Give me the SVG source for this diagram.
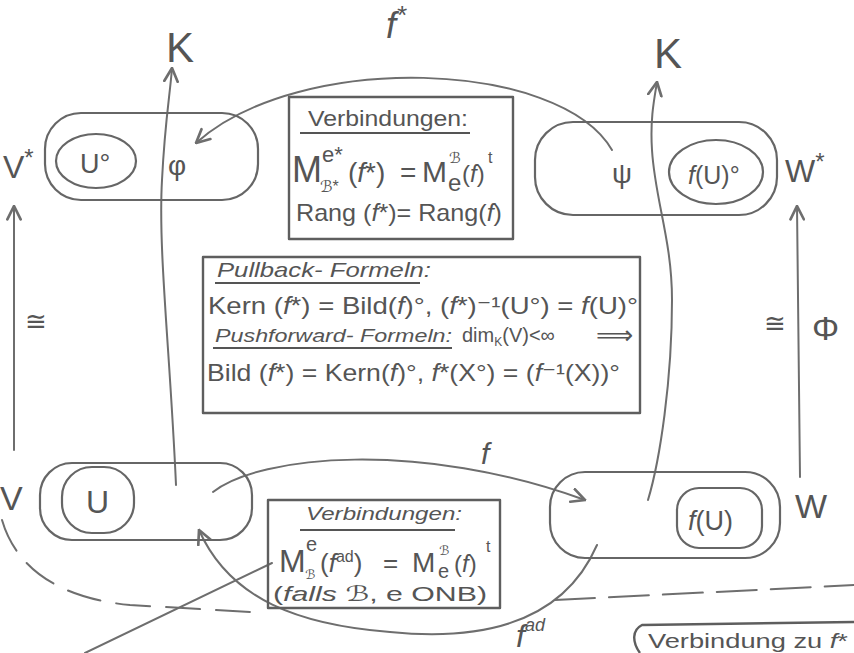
<svg xmlns="http://www.w3.org/2000/svg" width="854" height="653" viewBox="0 0 854 653">
<defs>
<style>
.ln{fill:none;stroke:#6e6e6e;stroke-width:2;stroke-linecap:round;stroke-linejoin:round}
.bx{fill:none;stroke:#5e5e5e;stroke-width:2.4;stroke-linejoin:round}
.nd{fill:none;stroke:#666;stroke-width:2.2}
.t{font-family:"Liberation Sans","DejaVu Sans",sans-serif;fill:#555}
.i{font-style:italic}
.ul{stroke:#555;stroke-width:2}
</style>
<marker id="ahb" viewBox="0 0 12 12" refX="11" refY="6" markerWidth="16" markerHeight="16" markerUnits="userSpaceOnUse" orient="auto">
<path d="M1,1 L11,6 L1,11" fill="none" stroke="#6e6e6e" stroke-width="2" stroke-linecap="round"/>
</marker>
</defs>
<rect width="854" height="653" fill="#fff"/>

<g id="connectors">
<path class="ln" d="M14,450 L14,206" marker-end="url(#ahb)"/>
<path class="ln" d="M800,477 L797,206" marker-end="url(#ahb)"/>
<path class="ln" d="M176,485 C170,350 158,250 162,180 C165,120 170,95 172,68" marker-end="url(#ahb)"/>
<path class="ln" d="M648,500 C660,460 672,380 672,300 C672,240 655,200 652,150 C650,120 654,100 657,82" marker-end="url(#ahb)"/>
<path class="ln" d="M612,150 C560,60 300,50 196,143" marker-end="url(#ahb)"/>
<path class="ln" d="M213,492 C260,455 420,440 585,500" stroke-width="2.6" marker-end="url(#ahb)"/>
<path class="ln" d="M597,545 C560,630 470,640 390,632 C300,625 230,600 199,530" stroke-width="2.8" marker-end="url(#ahb)"/>
<path class="ln" d="M272,563 L85,653" stroke-width="1.3"/>
<path class="ln" d="M2,520 C15,565 55,598 130,605 L250,612" stroke-dasharray="34 16"/>
<path class="ln" d="M555,600 L854,585" stroke-dasharray="40 14"/>
<text class="t i" x="386" y="38" font-size="36">f<tspan font-size="26" dy="-14">*</tspan></text>
<text class="t i" x="481" y="464" font-size="30">f</text>
<text class="t i" x="516" y="647" font-size="32">f<tspan font-size="18" dy="-16">ad</tspan></text>
<text class="t" x="25" y="330" font-size="26">≅</text>
<text class="t" x="764" y="332" font-size="26">≅</text>
<text class="t" x="812" y="340" font-size="34">Φ</text>
</g>

<g id="K-left"><text class="t" x="166" y="62" font-size="42">K</text></g>
<g id="K-right"><text class="t" x="654" y="68" font-size="42">K</text></g>

<g id="node-Vstar">
<text class="t" x="3" y="178" font-size="32">V<tspan font-size="24" dy="-12">*</tspan></text>
<rect class="nd" x="45" y="113" width="213" height="87" rx="36"/>
<ellipse class="nd" cx="96" cy="161" rx="40" ry="27"/>
<text class="t" x="80" y="173" font-size="27">U°</text>
<text class="t" x="168" y="175" font-size="28">φ</text>
</g>

<g id="node-Wstar">
<rect class="nd" x="535" y="122" width="242" height="93" rx="38"/>
<ellipse class="nd" cx="716" cy="172" rx="47" ry="32"/>
<text class="t" x="612" y="183" font-size="28">ψ</text>
<text class="t" x="688" y="184" font-size="25"><tspan class="i">f</tspan>(U)°</text>
<text class="t" x="785" y="182" font-size="32">W<tspan font-size="24" dy="-12">*</tspan></text>
</g>

<g id="node-V">
<text class="t" x="0" y="510" font-size="34">V</text>
<rect class="nd" x="40" y="463" width="212" height="77" rx="32"/>
<rect class="nd" x="62" y="467" width="72" height="66" rx="30"/>
<text class="t" x="86" y="513" font-size="32">U</text>
</g>

<g id="node-W">
<rect class="nd" x="550" y="472" width="230" height="86" rx="35"/>
<rect class="nd" x="677" y="488" width="85" height="60" rx="22"/>
<text class="t" x="688" y="530" font-size="27"><tspan class="i">f</tspan>(U)</text>
<text class="t" x="795" y="518" font-size="34">W</text>
</g>

<g id="box-dual">
<rect class="bx" x="289" y="97" width="224" height="142"/>
<text class="t" x="308" y="126" font-size="22" textLength="160" lengthAdjust="spacingAndGlyphs">Verbindungen:</text>
<line class="ul" x1="300" y1="133" x2="470" y2="133"/>
<text class="t" x="292" y="182" font-size="36">M</text>
<text class="t" x="322" y="162" font-size="22">e*</text>
<text class="t" x="320" y="192" font-size="16">ℬ*</text>
<text class="t" x="348" y="182" font-size="28">(<tspan class="i">f</tspan>*)</text>
<text class="t" x="400" y="182" font-size="28">=</text>
<text class="t" x="422" y="182" font-size="30">M</text>
<text class="t" x="449" y="163" font-size="15">ℬ</text>
<text class="t" x="448" y="191" font-size="24">e</text>
<text class="t" x="462" y="182" font-size="24">(<tspan class="i">f</tspan>)</text>
<text class="t" x="488" y="163" font-size="16">t</text>
<text class="t" x="296" y="221" font-size="24" textLength="206" lengthAdjust="spacingAndGlyphs">Rang (<tspan class="i">f</tspan>*)= Rang(<tspan class="i">f</tspan>)</text>
</g>

<g id="box-formeln">
<rect class="bx" x="203" y="257" width="437" height="156" stroke-width="1.8"/>
<text class="t i" x="217" y="277" font-size="21" textLength="214" lengthAdjust="spacingAndGlyphs">Pullback- Formeln:</text>
<line class="ul" x1="215" y1="283" x2="420" y2="283" stroke-width="1.6"/>
<text class="t" x="208" y="314" font-size="24" textLength="430" lengthAdjust="spacingAndGlyphs">Kern (<tspan class="i">f</tspan>*) = Bild(<tspan class="i">f</tspan>)°,  (<tspan class="i">f</tspan>*)⁻¹(U°) = <tspan class="i">f</tspan>(U)°</text>
<text class="t i" x="215" y="342" font-size="19" textLength="237" lengthAdjust="spacingAndGlyphs">Pushforward- Formeln:</text>
<line class="ul" x1="213" y1="348" x2="452" y2="348" stroke-width="1.6"/>
<text class="t" x="462" y="342" font-size="20">dim<tspan font-size="12" dy="4">K</tspan><tspan dy="-4">(V)&lt;∞</tspan></text>
<text class="t" x="596" y="344" font-size="26" font-family="DejaVu Sans">⟹</text>
<text class="t" x="207" y="381" font-size="24" textLength="413" lengthAdjust="spacingAndGlyphs">Bild (<tspan class="i">f</tspan>*) = Kern(<tspan class="i">f</tspan>)°,  <tspan class="i">f</tspan>*(X°) = (<tspan class="i">f</tspan>⁻¹(X))°</text>
</g>

<g id="box-adjoint">
<rect class="bx" x="268" y="500" width="232" height="108"/>
<text class="t i" x="306" y="520" font-size="19" textLength="156" lengthAdjust="spacingAndGlyphs">Verbindungen:</text>
<line class="ul" x1="300" y1="530" x2="455" y2="530"/>
<text class="t" x="279" y="572" font-size="32">M</text>
<text class="t" x="306" y="551" font-size="20">e</text>
<text class="t" x="305" y="579" font-size="13">ℬ</text>
<text class="t" x="320" y="572" font-size="26">(<tspan class="i">f</tspan><tspan font-size="16" dy="-10">ad</tspan><tspan dy="10">)</tspan></text>
<text class="t" x="383" y="572" font-size="26">=</text>
<text class="t" x="412" y="572" font-size="28">M</text>
<text class="t" x="439" y="555" font-size="13">ℬ</text>
<text class="t" x="438" y="578" font-size="20">e</text>
<text class="t" x="454" y="572" font-size="24">(<tspan class="i">f</tspan>)</text>
<text class="t" x="486" y="552" font-size="16">t</text>
<text class="t" x="273" y="601" font-size="21" textLength="214" lengthAdjust="spacingAndGlyphs">(<tspan class="i">falls</tspan> ℬ, e ONB)</text>
</g>

<g id="box-verbindung-fstar">
<path class="bx" d="M640,653 C632,642 632,630 642,625 L854,622" stroke-width="2"/>
<text class="t" x="648" y="648" font-size="21" textLength="200" lengthAdjust="spacingAndGlyphs">Verbindung zu <tspan class="i">f</tspan>*</text>
</g>
</svg>
